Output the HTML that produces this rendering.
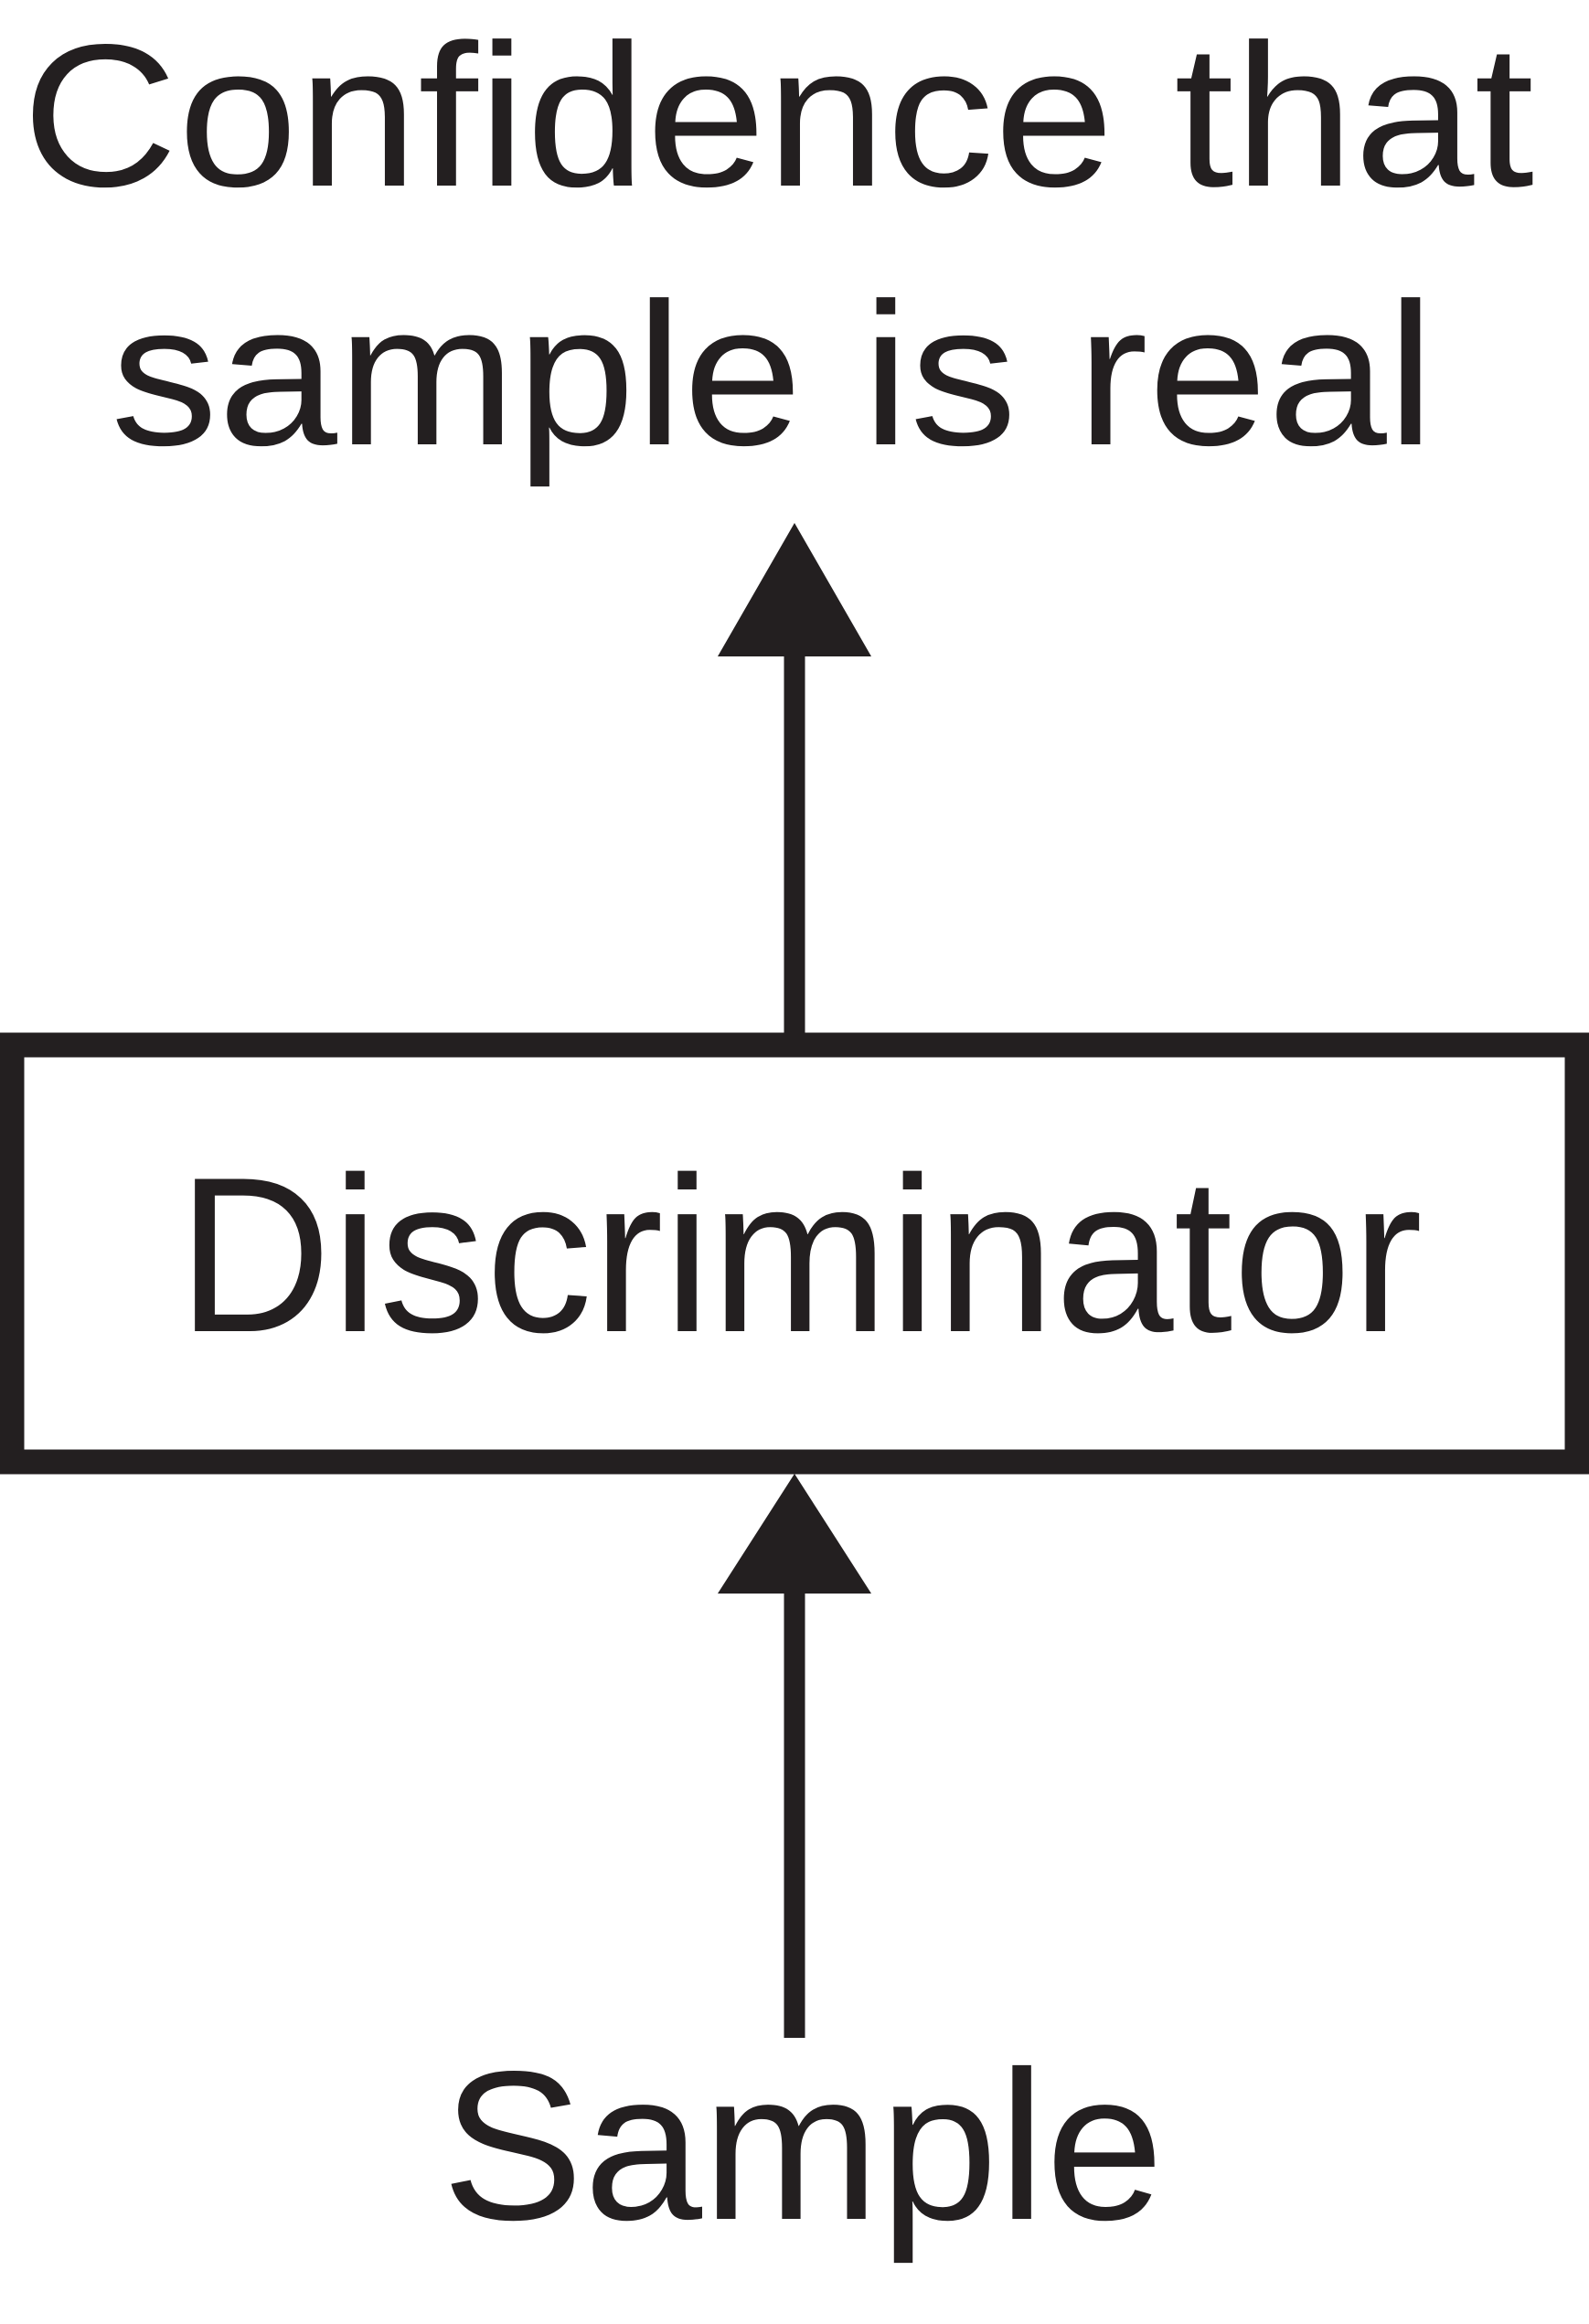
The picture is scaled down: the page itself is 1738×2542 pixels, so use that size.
<!DOCTYPE html>
<html><head><meta charset="utf-8"><style>
html,body{margin:0;padding:0;background:#fff;}
svg{display:block;}
text{font-family:"Liberation Sans",Arial,sans-serif;fill:#231f20;}
</style></head><body>
<svg width="1738" height="2542" viewBox="0 0 1738 2542" xmlns="http://www.w3.org/2000/svg">
<rect width="1738" height="2542" fill="#fff"/>
<text x="851" y="203" font-size="222" text-anchor="middle" textLength="1654" lengthAdjust="spacingAndGlyphs">Confidence that</text>
<text x="845" y="486" font-size="222" text-anchor="middle" textLength="1448" lengthAdjust="spacingAndGlyphs">sample is real</text>
<line x1="869" y1="710" x2="869" y2="1135" stroke="#231f20" stroke-width="23"/>
<polygon points="869,572 785,718 953,718" fill="#231f20"/>
<rect x="13" y="1143" width="1712" height="456" fill="none" stroke="#231f20" stroke-width="27"/>
<text x="875" y="1456" font-size="242" text-anchor="middle" textLength="1362" lengthAdjust="spacingAndGlyphs">Discriminator</text>
<line x1="869" y1="1735" x2="869" y2="2229" stroke="#231f20" stroke-width="23"/>
<polygon points="869,1612 785,1743 953,1743" fill="#231f20"/>
<text x="878" y="2427" font-size="232" text-anchor="middle" textLength="790" lengthAdjust="spacingAndGlyphs">Sample</text>
</svg>
</body></html>
